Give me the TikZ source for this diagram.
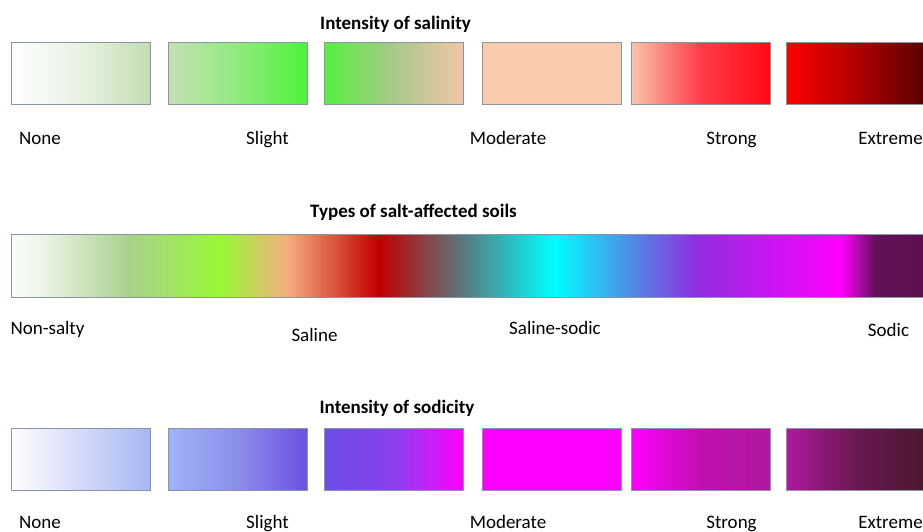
\documentclass[tikz,border=0pt]{standalone}
\usepackage{fontspec}
\setmainfont{Carlito}
\usepackage{xcolor}

\definecolor{edge}{HTML}{8A96A6}
\definecolor{fuchsia}{HTML}{FF00FF}
% colours along the soil-type bar
\definecolor{s0}{HTML}{FBFDF9}
\definecolor{s1}{HTML}{EEF5E9}
\definecolor{s2}{HTML}{A9D18E}
\definecolor{s3}{HTML}{99F833}
\definecolor{s4}{HTML}{F4AE80}
\definecolor{s5}{HTML}{C00000}
\definecolor{s6}{HTML}{577C7F}
\definecolor{s7}{HTML}{00FFFF}
\definecolor{s8}{HTML}{4F8EE6}
\definecolor{s9}{HTML}{8E2FE0}
\definecolor{s10}{HTML}{FF00FF}
\definecolor{s11}{HTML}{601258}
\definecolor{s12}{HTML}{5C1050}

\pgfdeclarehorizontalshading{soilbar}{100bp}{color(0bp)=(s0); color(25bp)=(s0);
  color(26.6bp)=(s1); color(31.4bp)=(s2); color(36.5bp)=(s3); color(40.1bp)=(s4);
  color(45.1bp)=(s5); color(49.8bp)=(s6); color(54.7bp)=(s7); color(58.8bp)=(s8);
  color(62.4bp)=(s9); color(70.4bp)=(s10); color(72.3bp)=(s11); color(75bp)=(s12);
  color(100bp)=(s12)}

\begin{document}
\begin{tikzpicture}[x=1pt, y=-1pt,
  every node/.style={font=\fontsize{19}{23}\selectfont},
  swatch/.style={draw=edge, line width=0.8pt, minimum width=139pt, minimum height=62pt, inner sep=0pt},
  heading/.style={anchor=base, font=\fontsize{19}{23}\selectfont\bfseries},
  level/.style={anchor=base}]

\useasboundingbox (0,0) rectangle (923,531);

% Intensity of salinity
\node[heading] at (395.5,29) (salt_title) {Intensity of salinity};

\node[swatch,left color=white,right color={rgb,255:red,195;green,221;blue,177},middle color={rgb,255:red,232;green,242;blue,226}] at (80.5,73) (salt1) {};
\node[swatch,left color={rgb,255:red,197;green,224;blue,180},right color={rgb,255:red,77;green,242;blue,58},middle color={rgb,255:red,144;green,234;blue,127}] at (238,73) (salt2) {};
\node[swatch,left color={rgb,255:red,85;green,240;blue,62},right color={rgb,255:red,242;green,198;blue,166},middle color={rgb,255:red,168;green,201;blue,138}] at (394,73) (salt3) {};
\node[swatch,fill={rgb,255:red,247;green,203;blue,172}] at (551.5,73) (salt4) {};
\node[swatch,left color={rgb,255:red,247;green,198;blue,170},right color={rgb,255:red,255;green,10;blue,20},middle color={rgb,255:red,255;green,60;blue,74}] at (700.5,73) (salt5) {};
\node[swatch,left color=red,right color={rgb,255:red,90;green,0;blue,0},middle color={rgb,255:red,176;green,0;blue,0}] at (856,73) (salt6) {};

\node[level] at (40,144) (salt_none) {None};
\node[level] at (267.5,144) (salt_slight) {Slight};
\node[level] at (508,144) (salt_moderate) {Moderate};
\node[level] at (731.5,144) (salt_strong) {Strong};
\node[level] at (890.5,144) (salt_extreme) {Extreme};

% Types of salt-affected soils
\node[heading] at (413.5,217) (type_title) {Types of salt-affected soils};

\node[swatch,minimum width=914pt,minimum height=63pt,shading=soilbar] at (468,266) (type_bar) {};

\node[level] at (47.5,334) (type_none) {Non-salty};
\node[level] at (314.5,341.5) (type_saline) {Saline};
\node[level] at (555,334) (type_salsod) {Saline-sodic};
\node[level] at (888.5,336.5) (type_sodic) {Sodic};

% Intensity of sodicity
\node[heading] at (397,413) (sod_title) {Intensity of sodicity};

\node[swatch,left color=white,right color={rgb,255:red,168;green,182;blue,244},middle color={rgb,255:red,212;green,218;blue,248}] at (80.5,459) (sod1) {};
\node[swatch,left color={rgb,255:red,160;green,178;blue,246},right color={rgb,255:red,106;green,80;blue,226},middle color={rgb,255:red,140;green,142;blue,234}] at (238,459) (sod2) {};
\node[swatch,left color={rgb,255:red,107;green,78;blue,230},right color=fuchsia,middle color={rgb,255:red,138;green,64;blue,238}] at (394,459) (sod3) {};
\node[swatch,fill=fuchsia] at (551.5,459) (sod4) {};
\node[swatch,left color=fuchsia,right color={rgb,255:red,176;green,24;blue,158},middle color={rgb,255:red,192;green,16;blue,176}] at (700.5,459) (sod5) {};
\node[swatch,left color={rgb,255:red,176;green,24;blue,158},right color={rgb,255:red,74;green,24;blue,48},middle color={rgb,255:red,106;green,24;blue,80}] at (856,459) (sod6) {};

\node[level] at (40,528) (sod_none) {None};
\node[level] at (267.5,528) (sod_slight) {Slight};
\node[level] at (508,528) (sod_moderate) {Moderate};
\node[level] at (731.5,528) (sod_strong) {Strong};
\node[level] at (890.5,528) (sod_extreme) {Extreme};

\end{tikzpicture}
\end{document}
